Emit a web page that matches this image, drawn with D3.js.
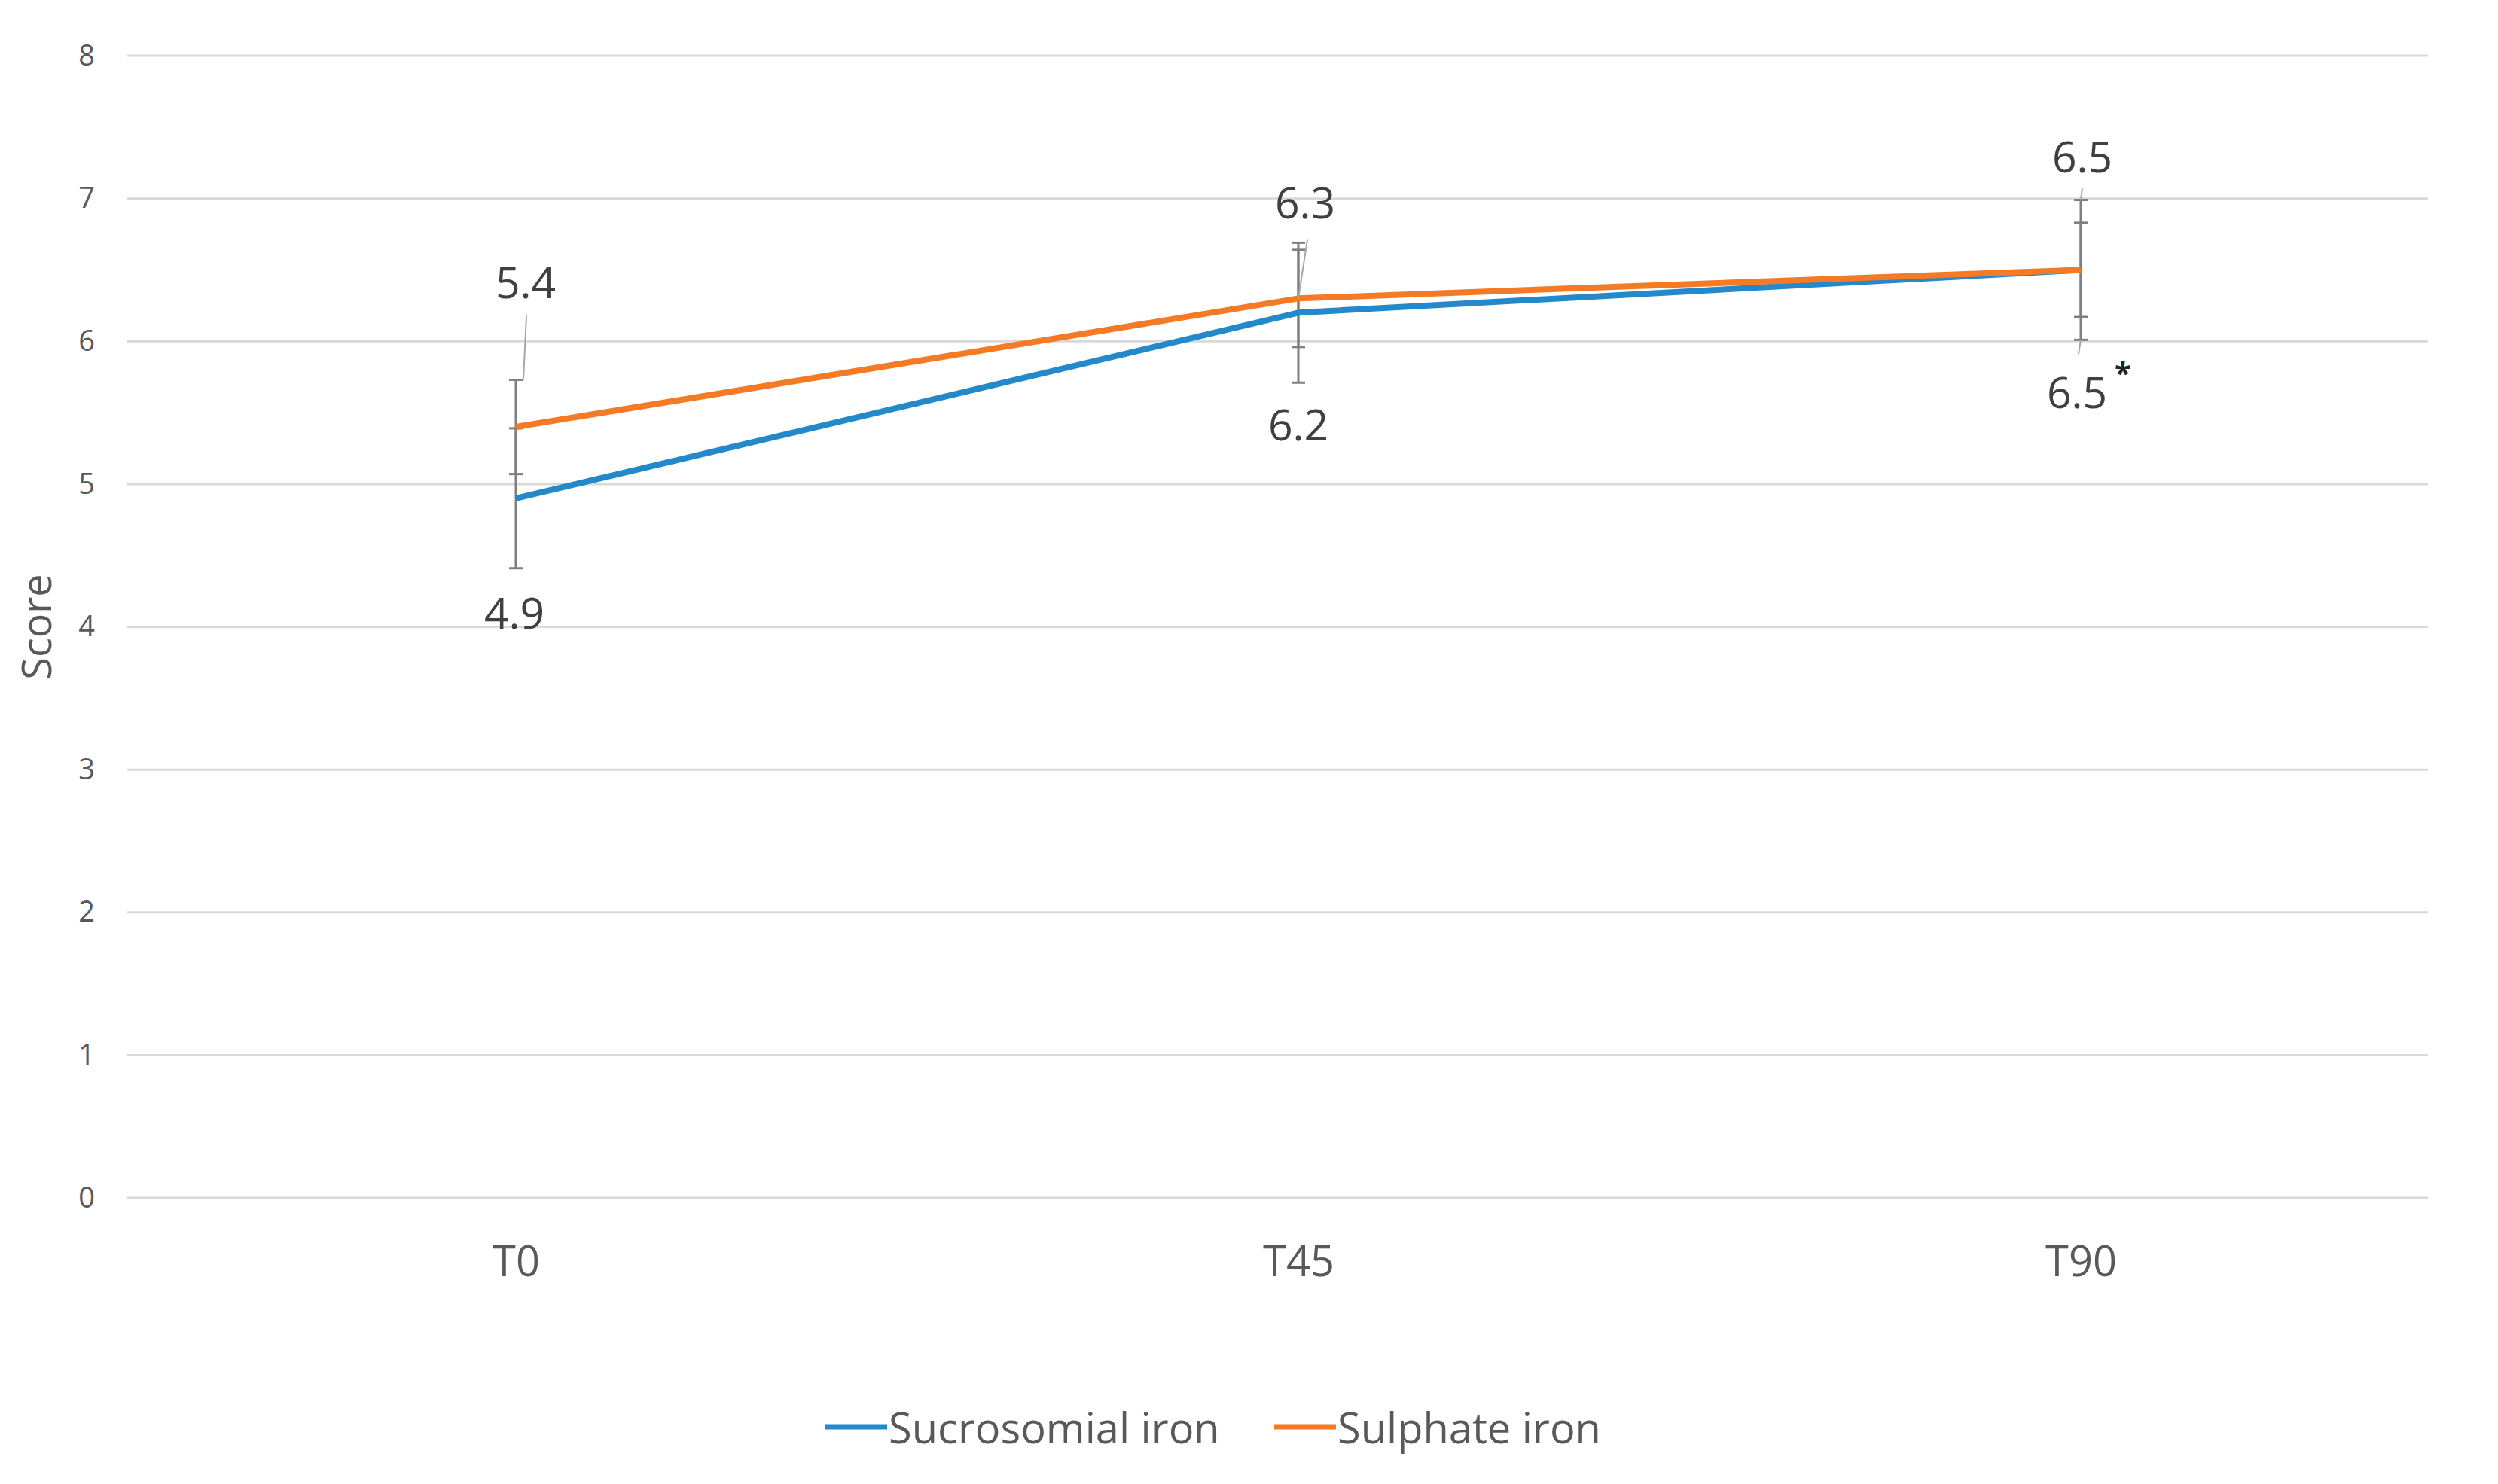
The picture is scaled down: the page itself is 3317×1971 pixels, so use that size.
<!DOCTYPE html>
<html><head><meta charset="utf-8">
<script src="https://cdn.jsdelivr.net/npm/d3@7"></script>
<style>
html,body{margin:0;padding:0;background:#fff;}
svg{display:block;font-family:"Open Sans",sans-serif;}
</style></head>
<body>
<svg id="chart" width="3317" height="1971"></svg>
<script>
// ---- data ----
const categories = ["T0", "T45", "T90"];
const sucrosomial = [4.9, 6.2, 6.5];
const sulphate = [5.4, 6.3, 6.5];
const sucrosomialErr = [0.49, 0.49, 0.49];
const sulphateErr = [0.33, 0.34, 0.33];
const yTicks = [0, 1, 2, 3, 4, 5, 6, 7, 8];
const seriesNames = ["Sucrosomial iron", "Sulphate iron"];
const sucrosomialLabels = ["4.9", "6.2", "6.5"];
const sulphateLabels = ["5.4", "6.3", "6.5"];

// ---- layout ----
const colors = ["#2389CB", "#F47A25"];
const svg = d3.select("#chart");
const plotLeft = 169, plotRight = 3224, plotTop = 74, plotBottom = 1591;

const y = d3.scaleLinear().domain([0, 8]).range([plotBottom, plotTop]);
const x = d3.scalePoint().domain(categories).range([685, 2763]);

// gridlines
svg.append("g").selectAll("line").data(yTicks).join("line")
  .attr("x1", plotLeft).attr("x2", plotRight)
  .attr("y1", d => y(d)).attr("y2", d => y(d))
  .attr("stroke", "#d9d9d9").attr("stroke-width", 3);

// y axis labels via d3 axis
const yAxis = d3.axisLeft(y).tickValues(yTicks).tickSize(0).tickPadding(0);
const gy = svg.append("g").attr("transform", `translate(126,0)`).call(yAxis);
gy.select(".domain").remove();
gy.selectAll("text").attr("font-size", 38).attr("fill", "#595959")
  .attr("font-family", "Open Sans, sans-serif");

// x axis labels
const xAxis = d3.axisBottom(x).tickSize(0).tickPadding(0);
const gx = svg.append("g").attr("transform", `translate(0,1655)`).call(xAxis);
gx.select(".domain").remove();
gx.selectAll("text").attr("font-size", 56).attr("fill", "#595959")
  .attr("font-family", "Open Sans, sans-serif");

// y title
svg.append("text").attr("transform", `translate(68,${(plotTop+plotBottom)/2}) rotate(-90)`)
  .attr("text-anchor", "middle").attr("font-size", 54).attr("fill", "#595959").text("Score");

// error bars
const errData = [];
categories.forEach((c, i) => {
  errData.push({c, v: sucrosomial[i], e: sucrosomialErr[i]});
  errData.push({c, v: sulphate[i], e: sulphateErr[i]});
});
const eg = svg.append("g").attr("stroke", "#7f7f7f").attr("stroke-width", 3);
errData.forEach(d => {
  const cx = x(d.c);
  eg.append("line").attr("x1", cx).attr("x2", cx).attr("y1", y(d.v + d.e)).attr("y2", y(d.v - d.e));
  [d.v + d.e, d.v - d.e].forEach(v => {
    eg.append("line").attr("x1", cx - 9).attr("x2", cx + 9).attr("y1", y(v)).attr("y2", y(v));
  });
});

// lines
const line = d3.line().x((d, i) => x(categories[i])).y(d => y(d));
[sucrosomial, sulphate].forEach((s, k) => {
  svg.append("path").datum(s).attr("d", line).attr("fill", "none")
    .attr("stroke", colors[k]).attr("stroke-width", 8).attr("stroke-linejoin", "round");
});

// data labels with leader lines (offsets are layout, not data)
const labelOffsets = {
  sulphate: [[13, -193], [9, -128], [2, -151]],
  sucrosomial: [[-2, 151], [0, 148], [-5, 162]]
};
const lg = svg.append("g");
function addLabels(vals, labels, offs) {
  vals.forEach((v, i) => {
    const px = x(categories[i]), py = y(v);
    lg.append("text").attr("x", px + offs[i][0]).attr("y", py + offs[i][1]).attr("text-anchor", "middle")
      .attr("dominant-baseline", "central").attr("font-size", 57).attr("fill", "#404040")
      .text(labels[i]);
  });
}
// leader lines
const leaders = [
  [x("T0") + 14, y(5.4) - 148, x("T0") + 10, y(5.4 + 0.33)],
  [x("T45") + 12, y(6.3) - 78, x("T45"), y(6.3)],
  [x("T90") + 2, y(6.5) - 108, x("T90"), y(6.5 + 0.49)],
  [x("T90") - 3, y(6.5) + 112, x("T90"), y(6.5 - 0.49)]
];
leaders.forEach(l => {
  lg.append("line").attr("x1", l[0]).attr("y1", l[1]).attr("x2", l[2]).attr("y2", l[3])
    .attr("stroke", "#a6a6a6").attr("stroke-width", 2);
});
addLabels(sulphate, sulphateLabels, labelOffsets.sulphate);
addLabels(sucrosomial, sucrosomialLabels, labelOffsets.sucrosomial);
// significance asterisk
lg.append("text").attr("x", x("T90") + 56).attr("y", y(6.5) + 152).attr("text-anchor", "middle")
  .attr("font-size", 40).attr("font-weight", "bold").attr("fill", "#222").text("*");

// legend
const legendItems = [
  {name: seriesNames[0], color: colors[0], x: 1096},
  {name: seriesNames[1], color: colors[1], x: 1692}
];
const leg = svg.append("g");
legendItems.forEach(it => {
  leg.append("line").attr("x1", it.x).attr("x2", it.x + 82).attr("y1", 1895).attr("y2", 1895)
    .attr("stroke", it.color).attr("stroke-width", 7);
  leg.append("text").attr("x", it.x + 84).attr("y", 1895).attr("dominant-baseline", "central")
    .attr("font-size", 56).attr("fill", "#595959").text(it.name);
});
</script>
</body></html>
